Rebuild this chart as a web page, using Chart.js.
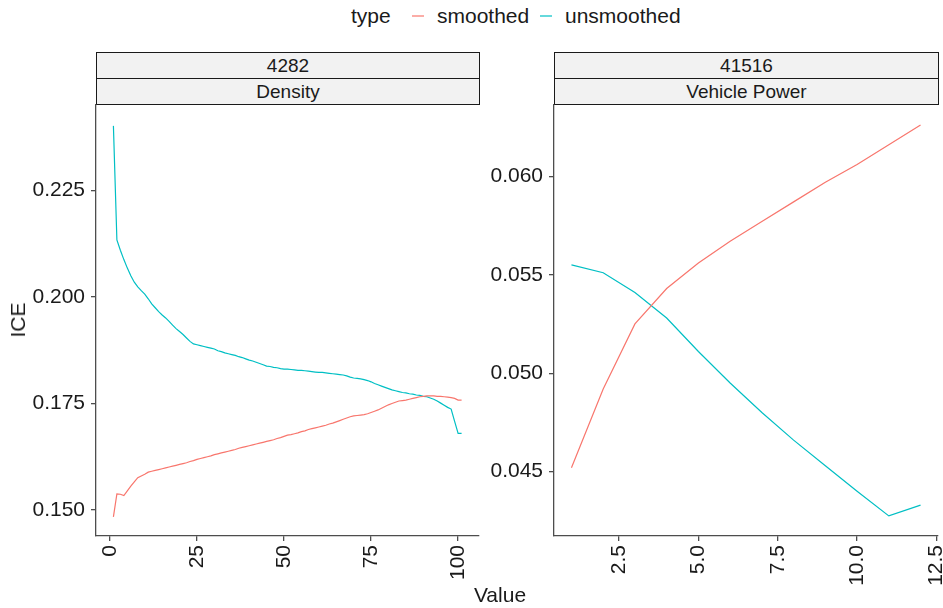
<!DOCTYPE html>
<html>
<head>
<meta charset="utf-8">
<script src="https://cdn.jsdelivr.net/npm/chart.js@4/dist/chart.umd.min.js"></script>
<style>
  html, body { margin: 0; padding: 0; background: #ffffff; }
  body { width: 943px; height: 608px; position: relative; overflow: hidden;
         font-family: 'Liberation Sans', Arial, sans-serif; color: #1a1a1a; }
  .abs { position: absolute; }
  .legend-text { font-size: 21px; line-height: 24px; top: 4px; white-space: nowrap; }
  .key { position: absolute; top: 15px; height: 2px; opacity: 0.6; }
  .strip { position: absolute; box-sizing: border-box; background: #F2F2F2;
           border: 1px solid #1a1a1a; display: flex; align-items: center;
           justify-content: center; font-size: 19px; line-height: 22px; }
  .panel { position: absolute; top: 100px; }
  .axis-title { position: absolute; font-size: 21px; line-height: 24px; white-space: nowrap; }
</style>
</head>
<body>

<!-- legend -->
<div class="abs legend-text" style="left:351px;">type</div>
<div class="key" id="keySmoothed" style="left:412px; width:12px;"></div>
<div class="abs legend-text" id="labelSmoothed" style="left:437px;"></div>
<div class="key" id="keyUnsmoothed" style="left:540px; width:12px;"></div>
<div class="abs legend-text" id="labelUnsmoothed" style="left:565px;"></div>

<!-- facet strips -->
<div class="strip" id="stripL1" style="left:96px; top:52px; width:384px; height:27px;"></div>
<div class="strip" id="stripL2" style="left:96px; top:78px; width:384px; height:27px;"></div>
<div class="strip" id="stripR1" style="left:554px; top:52px; width:385px; height:27px;"></div>
<div class="strip" id="stripR2" style="left:554px; top:78px; width:385px; height:27px;"></div>

<!-- panels -->
<div class="panel" style="left:0px;"><canvas id="densityChart" width="485" height="508"></canvas></div>
<div class="panel" style="left:490px;"><canvas id="powerChart" width="453" height="508"></canvas></div>

<!-- axis titles -->
<div class="axis-title" style="left:17.5px; top:320px; transform: translate(-50%,-50%) rotate(-90deg);">ICE</div>
<div class="axis-title" style="left:500px; top:595px; transform: translate(-50%,-50%);">Value</div>

<script>
// ---- facet labels ----
const facetIds = ["4282", "41516"];
const facetNames = ["Density", "Vehicle Power"];
const seriesNames = ["smoothed", "unsmoothed"];
const seriesColors = ["#F8766D", "#00BFC4"];

// ---- Density panel ----
const densityValue = [
  1, 2, 3, 4, 5, 6, 7, 8, 9, 10,
  11, 12, 13, 14, 15, 16, 17, 18, 19, 20,
  21, 22, 23, 24, 25, 26, 27, 28, 29, 30,
  31, 32, 33, 34, 35, 36, 37, 38, 39, 40,
  41, 42, 43, 44, 45, 46, 47, 48, 49, 50,
  51, 52, 53, 54, 55, 56, 57, 58, 59, 60,
  61, 62, 63, 64, 65, 66, 67, 68, 69, 70,
  71, 72, 73, 74, 75, 76, 77, 78, 79, 80,
  81, 82, 83, 84, 85, 86, 87, 88, 89, 90,
  91, 92, 93, 94, 95, 96, 97, 98, 99, 100,
  101
];
const densitySmoothed = [
  0.1484, 0.1538, 0.1537, 0.1534, 0.1545, 0.1556, 0.1566, 0.1576, 0.1580, 0.1584,
  0.1589, 0.1591, 0.1593, 0.1595, 0.1597, 0.1599, 0.1601, 0.1603, 0.1605, 0.1607,
  0.1609, 0.1611, 0.1614, 0.1616, 0.1619, 0.1621, 0.1623, 0.1625, 0.1627, 0.1630,
  0.1632, 0.1634, 0.1636, 0.1638, 0.1640, 0.1642, 0.1645, 0.1647, 0.1649, 0.1651,
  0.1653, 0.1655, 0.1657, 0.1659, 0.1661, 0.1663, 0.1665, 0.1668, 0.1670, 0.1673,
  0.1676, 0.1677, 0.1679, 0.1681, 0.1684, 0.1686, 0.1689, 0.1691, 0.1693, 0.1695,
  0.1697, 0.1699, 0.1702, 0.1704, 0.1707, 0.1710, 0.1713, 0.1716, 0.1719, 0.1721,
  0.1722, 0.1723, 0.1724, 0.1726, 0.1729, 0.1732, 0.1735, 0.1739, 0.1743, 0.1747,
  0.1750, 0.1753, 0.1756, 0.1757, 0.1758, 0.1760, 0.1762, 0.1764, 0.1766, 0.1767,
  0.1768, 0.1768, 0.1768, 0.1767, 0.1767, 0.1766, 0.1765, 0.1764, 0.1762, 0.1758,
  0.1758
];
const densityUnsmoothed = [
  0.2402, 0.2134, 0.2110, 0.2088, 0.2068, 0.2050, 0.2035, 0.2024, 0.2015, 0.2007,
  0.1996, 0.1984, 0.1975, 0.1966, 0.1958, 0.1951, 0.1943, 0.1934, 0.1926, 0.1919,
  0.1912, 0.1904, 0.1896, 0.1890, 0.1888, 0.1886, 0.1884, 0.1882, 0.1880, 0.1878,
  0.1874, 0.1872, 0.1869, 0.1867, 0.1865, 0.1863, 0.1860, 0.1858, 0.1855, 0.1852,
  0.1850, 0.1847, 0.1844, 0.1841, 0.1838, 0.1837, 0.1835, 0.1834, 0.1832, 0.1831,
  0.1831, 0.1830, 0.1829, 0.1828, 0.1828, 0.1827, 0.1826, 0.1825, 0.1824, 0.1823,
  0.1823, 0.1822, 0.1821, 0.1820, 0.1819, 0.1818, 0.1817, 0.1815, 0.1812, 0.1810,
  0.1809, 0.1808, 0.1806, 0.1804, 0.1801, 0.1797, 0.1794, 0.1791, 0.1788, 0.1785,
  0.1782, 0.1780, 0.1778, 0.1776, 0.1775, 0.1773, 0.1772, 0.1770, 0.1769, 0.1767,
  0.1766, 0.1763, 0.1760, 0.1756, 0.1751, 0.1746, 0.1741, 0.1737, 0.1708, 0.1680,
  0.1680
];
const densityXTicks = [0, 25, 50, 75, 100];
const densityYTicks = [0.150, 0.175, 0.200, 0.225];

// ---- Vehicle Power panel ----
const powerValue = [1, 2, 3, 4, 5, 6, 7, 8, 9, 10, 11, 12];
const powerSmoothed = [
  0.0452, 0.0492, 0.0525, 0.0543, 0.0556, 0.0567, 0.0577, 0.0587,
  0.0597, 0.0606, 0.0616, 0.0626
];
const powerUnsmoothed = [
  0.0555, 0.0551, 0.0541, 0.0528, 0.0511, 0.0495, 0.0480, 0.0466,
  0.0453, 0.0440, 0.04275, 0.0433
];
const powerXTicks = [2.5, 5.0, 7.5, 10.0, 12.5];
const powerYTicks = [0.045, 0.050, 0.055, 0.060];

// strip and legend labels
document.getElementById('stripL1').textContent = facetIds[0];
document.getElementById('stripL2').textContent = facetNames[0];
document.getElementById('stripR1').textContent = facetIds[1];
document.getElementById('stripR2').textContent = facetNames[1];
document.getElementById('labelSmoothed').textContent = seriesNames[0];
document.getElementById('labelUnsmoothed').textContent = seriesNames[1];
document.getElementById('keySmoothed').style.background = seriesColors[0];
document.getElementById('keyUnsmoothed').style.background = seriesColors[1];

const FONT = "'Liberation Sans', Arial, sans-serif";
const AXIS_COLOR = '#4d4d4d';
const TEXT_COLOR = '#1a1a1a';

function toPoints(xs, ys) {
  return xs.map((x, i) => ({ x: x, y: ys[i] }));
}

function drawPanel(canvasId, cfg) {
  const axisBits = {
    grid: { drawOnChartArea: false, drawTicks: true, tickLength: 5,
            tickColor: AXIS_COLOR, lineWidth: 1.3 },
    border: { display: true, color: AXIS_COLOR, width: 1.3 }
  };
  return new Chart(document.getElementById(canvasId), {
    type: 'line',
    data: {
      datasets: [
        { label: seriesNames[0], data: toPoints(cfg.x, cfg.smoothed),
          borderColor: seriesColors[0], backgroundColor: seriesColors[0] },
        { label: seriesNames[1], data: toPoints(cfg.x, cfg.unsmoothed),
          borderColor: seriesColors[1], backgroundColor: seriesColors[1] }
      ]
    },
    options: {
      responsive: false,
      animation: false,
      devicePixelRatio: 1,
      layout: { padding: { top: 5, right: cfg.padRight, left: 0, bottom: 0 } },
      elements: {
        point: { radius: 0, hoverRadius: 0 },
        line: { borderWidth: 1.2, tension: 0 }
      },
      plugins: { legend: { display: false }, tooltip: { enabled: false } },
      events: [],
      scales: {
        x: Object.assign({
          type: 'linear',
          min: cfg.xMin, max: cfg.xMax,
          afterBuildTicks: s => { s.ticks = cfg.xTicks.map(v => ({ value: v })); },
          afterFit: s => { s.height = 72; s.paddingLeft = 0; s.paddingRight = 0; },
          ticks: {
            autoSkip: false, minRotation: 90, maxRotation: 90, padding: 4,
            color: TEXT_COLOR, font: { family: FONT, size: 21 },
            callback: v => v.toFixed(cfg.xDigits)
          }
        }, axisBits),
        y: Object.assign({
          type: 'linear',
          min: cfg.yMin, max: cfg.yMax,
          afterBuildTicks: s => { s.ticks = cfg.yTicks.map(v => ({ value: v })); },
          afterFit: s => { s.width = cfg.yWidth; s.paddingTop = 0; s.paddingBottom = 0; },
          ticks: {
            autoSkip: false, padding: 6,
            color: TEXT_COLOR, font: { family: FONT, size: 21 },
            callback: v => v.toFixed(3)
          }
        }, axisBits)
      }
    }
  });
}

drawPanel('densityChart', {
  x: densityValue, smoothed: densitySmoothed, unsmoothed: densityUnsmoothed,
  xMin: -4, xMax: 106, xTicks: densityXTicks, xDigits: 0,
  yMin: 0.1439, yMax: 0.2451, yTicks: densityYTicks,
  yWidth: 96, padRight: 6
});

drawPanel('powerChart', {
  x: powerValue, smoothed: powerSmoothed, unsmoothed: powerUnsmoothed,
  xMin: 0.45, xMax: 12.55, xTicks: powerXTicks, xDigits: 1,
  yMin: 0.04173, yMax: 0.06362, yTicks: powerYTicks,
  yWidth: 64, padRight: 5
});
</script>
</body>
</html>
